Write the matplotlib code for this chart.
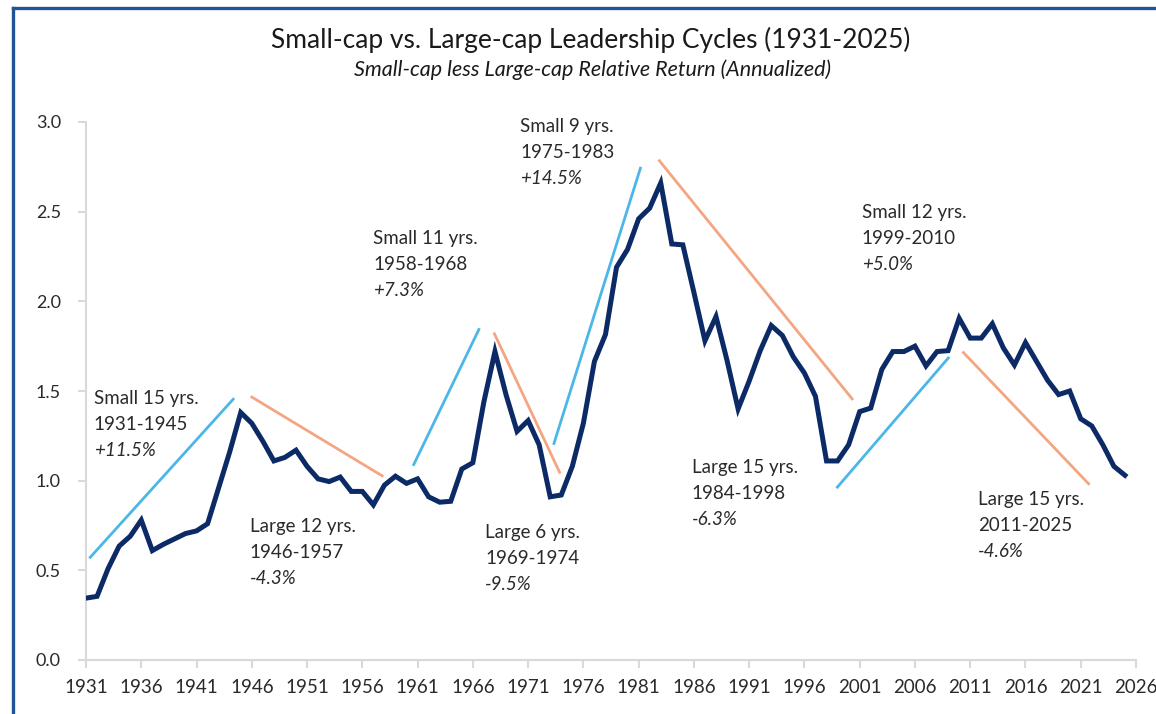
import matplotlib
matplotlib.use("Agg")
import matplotlib.pyplot as plt
from matplotlib.lines import Line2D

plt.rcParams['font.family'] = ['Lato', 'DejaVu Sans']

# ---- data ----
years = list(range(1931, 2026))
values = [
    0.345, 0.355, 0.51, 0.635, 0.69, 0.78, 0.61, 0.645, 0.675, 0.705,   # 1931-1940
    0.72, 0.76, 0.96, 1.16, 1.38, 1.32, 1.22, 1.11, 1.13, 1.17,         # 1941-1950
    1.08, 1.01, 0.995, 1.02, 0.94, 0.94, 0.865, 0.975, 1.025, 0.985,    # 1951-1960
    1.01, 0.91, 0.88, 0.885, 1.065, 1.10, 1.44, 1.72, 1.48, 1.275,      # 1961-1970
    1.335, 1.20, 0.91, 0.92, 1.08, 1.32, 1.665, 1.815, 2.19, 2.29,      # 1971-1980
    2.46, 2.52, 2.66, 2.32, 2.315, 2.05, 1.78, 1.915, 1.67, 1.40,       # 1981-1990
    1.555, 1.725, 1.865, 1.81, 1.69, 1.60, 1.47, 1.11, 1.11, 1.20,      # 1991-2000
    1.385, 1.405, 1.62, 1.72, 1.72, 1.75, 1.64, 1.72, 1.725, 1.905,     # 2001-2010
    1.795, 1.795, 1.875, 1.74, 1.645, 1.77, 1.665, 1.56, 1.48, 1.50,    # 2011-2020
    1.345, 1.305, 1.20, 1.08, 1.03,                                     # 2021-2025
]

# trend segments (start year, start value, end year, end value)
small_trend_x = [(1931.3, 1944.4), (1960.6, 1966.6), (1973.3, 1981.2), (1998.9, 2009.1)]
small_trend_y = [(0.567, 1.46), (1.083, 1.85), (1.20, 2.75), (0.958, 1.69)]
large_trend_x = [(1945.9, 1957.9), (1967.9, 1973.9), (1982.8, 2000.4), (2010.3, 2021.8)]
large_trend_y = [(1.47, 1.023), (1.826, 1.04), (2.79, 1.45), (1.72, 0.977)]

ann_line1 = ["Small 15 yrs.", "Large 12 yrs.", "Small 11 yrs.", "Large 6 yrs.",
             "Small 9 yrs.", "Large 15 yrs.", "Small 12 yrs.", "Large 15 yrs."]
ann_line2 = ["1931-1945", "1946-1957", "1958-1968", "1969-1974",
             "1975-1983", "1984-1998", "1999-2010", "2011-2025"]
ann_line3 = ["+11.5%", "-4.3%", "+7.3%", "-9.5%", "+14.5%", "-6.3%", "+5.0%", "-4.6%"]
ann_x = [1931.7, 1945.8, 1957.0, 1967.1, 1970.3, 1985.8, 2001.2, 2011.7]
ann_y = [1.428, 0.714, 2.32, 0.680, 2.945, 1.043, 2.465, 0.864]

xticks = list(range(1931, 2027, 5))
yticks = [0.0, 0.5, 1.0, 1.5, 2.0, 2.5, 3.0]

title = "Small-cap vs. Large-cap Leadership Cycles (1931-2025)"
subtitle = "Small-cap less Large-cap Relative Return (Annualized)"

# ---- figure ----
W, H = 1156, 714
fig = plt.figure(figsize=(W / 100, H / 100), dpi=100)
fig.patch.set_facecolor('white')
ax = fig.add_axes([86 / W, 1 - 660 / H, (1136 - 86) / W, (660 - 122) / H])

navy = '#0C2A66'
sky = '#4DB6E8'
salmon = '#F4A582'
grey_axis = '#D9D9D9'
txt = '#2A2A2A'

for (x0, x1), (y0, y1) in zip(small_trend_x, small_trend_y):
    ax.plot([x0, x1], [y0, y1], color=sky, lw=2.0, solid_capstyle='butt', zorder=2)
for (x0, x1), (y0, y1) in zip(large_trend_x, large_trend_y):
    ax.plot([x0, x1], [y0, y1], color=salmon, lw=2.0, solid_capstyle='butt', zorder=2)

ax.plot(years, values, color=navy, lw=3.6, solid_joinstyle='miter', zorder=3)

ax.set_xlim(1931, 2026)
ax.set_ylim(0, 3.0)
ax.set_xticks(xticks)
ax.set_xticklabels([str(t) for t in xticks])
ax.set_yticks(yticks)
ax.set_yticklabels([f"{t:.1f}" for t in yticks])

for s in ['top', 'right']:
    ax.spines[s].set_visible(False)
for s in ['left', 'bottom']:
    ax.spines[s].set_color(grey_axis)
    ax.spines[s].set_linewidth(1.5)
ax.tick_params(axis='both', colors=grey_axis, length=6, width=1.5, labelcolor=txt)
ax.tick_params(axis='y', labelsize=13, pad=12)
ax.tick_params(axis='x', labelsize=13.5, pad=8)

dy = 26 / 179.3
for l1, l2, l3, x, y in zip(ann_line1, ann_line2, ann_line3, ann_x, ann_y):
    ax.text(x, y, l1, fontsize=13.5, color=txt, va='baseline', ha='left', zorder=4)
    ax.text(x, y - dy, l2, fontsize=13.5, color=txt, va='baseline', ha='left', zorder=4)
    ax.text(x, y - 2 * dy, l3, fontsize=13.5, color=txt, va='baseline', ha='left',
            style='italic', zorder=4)

fig.text(591 / W, 1 - 40 / H, title, fontsize=19, color='#1A1A1A', ha='center', va='center')
fig.text(593 / W, 1 - 70 / H, subtitle, fontsize=15.5, color='#1A1A1A', ha='center',
         va='center', style='italic')

# frame (left and top blue border)
frame_c = '#1F5597'
fig.add_artist(Line2D([13 / W, 13 / W], [0, 1 - 8 / H], color=frame_c, lw=2.4,
                      transform=fig.transFigure, solid_capstyle='projecting'))
fig.add_artist(Line2D([13 / W, 1], [1 - 8 / H, 1 - 8 / H], color=frame_c, lw=2.4,
                      transform=fig.transFigure, solid_capstyle='projecting'))

fig.savefig('out.png', dpi=100, facecolor='white')
